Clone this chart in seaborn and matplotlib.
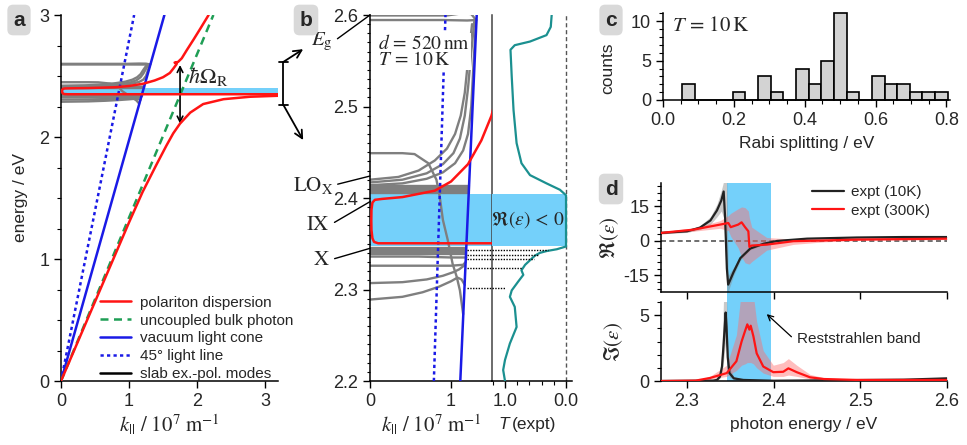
import numpy as np
import matplotlib
matplotlib.use('Agg')
import matplotlib.pyplot as plt
from matplotlib.lines import Line2D
from matplotlib.ticker import MultipleLocator
import seaborn as sns

# --- data ---
# panel a: straight lines (k in 1e7 m^-1, E in eV)
vac_k, vac_E = [0, 1.52], [0, 3.0]
line45_k, line45_E = [0, 1.075], [0, 3.0]
bulk_k, bulk_E = [0, 2.24], [0, 3.0]

# polariton dispersion, lower and upper branch
pol_lo_k = [0, 0.5, 1.0, 1.2, 1.4, 1.55, 1.65, 1.75, 1.9, 2.09, 2.39, 2.78, 3.19]
pol_lo_E = [0, 0.65, 1.3, 1.55, 1.77, 1.93, 2.03, 2.11, 2.2, 2.27, 2.31, 2.33, 2.338]
pol_up_k = [3.19, 2.0, 1.0, 0.3, 0.1, 0.05, 0.03, 0.018, 0.016, 0.018, 0.03, 0.06, 0.15,
            0.4, 0.8, 1.0, 1.21, 1.375, 1.5, 1.6, 1.65, 1.70, 1.67, 1.72, 1.775, 1.85,
            1.95, 2.05, 2.17]
pol_up_E = [2.3505, 2.3505, 2.3505, 2.3505, 2.3505, 2.352, 2.356, 2.365, 2.375, 2.387,
            2.395, 2.398, 2.399, 2.401, 2.408, 2.418, 2.437, 2.463, 2.49, 2.525, 2.56,
            2.598, 2.61, 2.615, 2.645, 2.713, 2.80, 2.89, 3.0]

# slab exciton-polariton modes
top1_k, top1_E = [0, 0.95, 1.15, 1.25, 1.31], [2.5995, 2.5995, 2.602, 2.601, 2.5945]
top2_k, top2_E = [0, 0.9, 1.2, 1.31], [2.5945, 2.5945, 2.594, 2.5945]
rise1_k = [0, 0.4, 0.7, 0.9, 1.05, 1.15, 1.21, 1.25, 1.28, 1.31]
rise1_E = [2.414, 2.416, 2.421, 2.428, 2.438, 2.452, 2.47, 2.50, 2.55, 2.595]
rise2_k = [0, 0.4, 0.7, 0.9, 1.03, 1.11, 1.17, 1.21, 1.25, 1.29]
rise2_E = [2.417, 2.42, 2.427, 2.437, 2.449, 2.465, 2.49, 2.52, 2.56, 2.595]
rise3_k = [0, 0.35, 0.6, 0.8, 0.95, 1.05, 1.12, 1.17, 1.21, 1.26]
rise3_E = [2.42, 2.423, 2.43, 2.441, 2.454, 2.47, 2.49, 2.515, 2.55, 2.59]
fall_k = [0, 0.4, 0.55, 0.72, 0.82, 0.86, 0.90, 0.96, 1.02, 1.07, 1.11, 1.15]
fall_E = [2.449, 2.449, 2.448, 2.438, 2.42, 2.402, 2.376, 2.354, 2.328, 2.314, 2.299, 2.273]
low1_k, low1_E = [0, 0.6, 1.0, 1.19], [2.336, 2.336, 2.335, 2.335]
low2_k, low2_E = [0, 0.6, 1.0, 1.15, 1.18], [2.326, 2.326, 2.326, 2.327, 2.33]
low3_k = [0, 0.4, 0.7, 0.9, 1.03, 1.1, 1.16]
low3_E = [2.307, 2.308, 2.311, 2.315, 2.319, 2.322, 2.326]
low4_k = [0, 0.4, 0.65, 0.85, 1.0, 1.08, 1.13, 1.17]
low4_E = [2.289, 2.292, 2.297, 2.303, 2.309, 2.313, 2.311, 2.305]
lo_cluster_E = [2.405, 2.407, 2.409, 2.411, 2.413]
lo_cluster_kmax = 1.22
x_cluster_E = [2.339, 2.341, 2.343, 2.345]
x_cluster_kmax = 1.19

band_E = (2.347, 2.404)   # Re(eps) < 0

# panel b: transmission (expt)
T_E = [2.6, 2.587, 2.578, 2.571, 2.567, 2.562, 2.533, 2.496, 2.46, 2.438, 2.425, 2.416,
       2.409, 2.403, 2.347, 2.344, 2.342, 2.340, 2.337, 2.332, 2.327, 2.321, 2.316,
       2.309, 2.299, 2.292, 2.281, 2.259, 2.241, 2.223, 2.212, 2.2]
T_val = [0.235, 0.25, 0.32, 0.59, 0.84, 0.91, 0.89, 0.86, 0.81, 0.73, 0.59, 0.32,
         0.10, 0.0, 0.0, 0.15, 0.32, 0.43, 0.51, 0.59, 0.67, 0.73, 0.70,
         0.78, 0.89, 0.92, 0.84, 0.81, 0.92, 1.0, 1.03, 1.0]
dot_E = [2.3432, 2.3377, 2.333, 2.323, 2.302]
dot_T = [0.30, 0.45, 0.53, 0.72, 1.0]

# panel c: histogram of Rabi splittings
bin_edges = [0.054, 0.0897, 0.1254, 0.1611, 0.1968, 0.2325, 0.2682, 0.3039, 0.3396,
             0.3753, 0.411, 0.4467, 0.4824, 0.5181, 0.5538, 0.5895, 0.6252, 0.6609,
             0.6966, 0.7323, 0.768, 0.8037]
counts = [2, 0, 0, 0, 1, 0, 3, 1, 0, 4, 2, 5, 11, 1, 0, 3, 2, 2, 1, 1, 1]

# panel d: dielectric function
re10_E = [2.27, 2.30, 2.315, 2.327, 2.3346, 2.3396, 2.3423, 2.3440, 2.3460, 2.3475,
          2.3538, 2.3615, 2.373, 2.3885, 2.404, 2.4385, 2.496, 2.55, 2.6]
re10 = [3.5, 4.2, 5.8, 8.9, 13.3, 17.6, 21.5, 10, -12, -19, -13.5, -7.5, -3.3, -1.2,
        0.0, 1.0, 1.5, 1.7, 1.7]
re10_lo = [3.1, 3.7, 5.0, 7.2, 10.5, 13, 10, -5, -22, -22, -15, -8.5, -3.9, -1.6,
           -0.3, 0.8, 1.3, 1.5, 1.5]
re10_hi = [3.9, 4.7, 6.6, 10.5, 16, 22, 26, 26, 26, -15, -11.5, -6.3, -2.7, -0.8,
           0.3, 1.2, 1.7, 1.9, 1.9]
re300_E = [2.27, 2.307, 2.338, 2.3477, 2.3504, 2.359, 2.363, 2.367, 2.3708, 2.372,
           2.3747, 2.392, 2.4227, 2.458, 2.496, 2.6]
re300 = [3.5, 4.9, 7.1, 7.8, 6.0, 7.1, 8.1, 6.0, 4.2, -2.6, -2.0, -1.6, -0.1, 0.2,
         0.6, 1.0]
re300_lo = [3.0, 4.2, 5.5, 4.5, 2.0, -3, -7, -9.5, -10, -10, -9, -4, -1.5, -0.4,
            0.2, 0.6]
re300_hi = [4.0, 5.6, 8.8, 11, 12, 14, 14.8, 14.5, 13, 10, 6, 1.5, 0.8, 0.7, 1.0, 1.3]

im10_E = [2.27, 2.33, 2.3346, 2.338, 2.3404, 2.3423, 2.3446, 2.3456, 2.347, 2.349,
          2.354, 2.365, 2.40, 2.55, 2.6]
im10 = [0.0, 0.03, 0.08, 0.33, 1.1, 2.85, 5.2, 4.1, 1.8, 0.6, 0.2, 0.08, 0.02, 0.1, 0.2]
im10_lo = [0.0, 0.02, 0.05, 0.2, 0.6, 1.6, 3.0, 2.5, 1.0, 0.3, 0.1, 0.04, 0.01, 0.05, 0.1]
im10_hi = [0.0, 0.05, 0.15, 0.6, 2.5, 6.5, 6.5, 6.5, 3.0, 1.0, 0.35, 0.12, 0.03, 0.15, 0.3]
im300_E = [2.27, 2.31, 2.3265, 2.3458, 2.357, 2.363, 2.367, 2.3696, 2.372, 2.3735,
           2.3766, 2.3804, 2.388, 2.3996, 2.411, 2.417, 2.4266, 2.442, 2.458, 2.496, 2.6]
im300 = [0.0, 0.03, 0.23, 0.6, 1.5, 3.0, 3.8, 4.3, 3.9, 4.2, 3.4, 2.1, 1.1, 0.67,
         0.7, 0.96, 0.67, 0.28, 0.15, 0.08, 0.08]
im300_lo = [0.0, 0.02, 0.15, 0.35, 0.8, 1.2, 1.3, 1.4, 1.4, 1.4, 1.3, 1.0, 0.6, 0.35,
            0.35, 0.45, 0.35, 0.15, 0.08, 0.04, 0.04]
im300_hi = [0.0, 0.05, 0.35, 1.2, 3.5, 7, 7, 7, 7, 7, 6.5, 4.5, 2.3, 1.2, 1.4, 1.7,
            1.2, 0.5, 0.25, 0.12, 0.12]
rest_band = (2.3465, 2.397)

# --- style ---
sns.set_style('ticks')
plt.rcParams['font.family'] = ['Liberation Sans', 'DejaVu Sans']
plt.rcParams['mathtext.fontset'] = 'stix'
plt.rcParams['axes.linewidth'] = 1.1
plt.rcParams['axes.edgecolor'] = 'black'
plt.rcParams['xtick.labelsize'] = 13
plt.rcParams['ytick.labelsize'] = 13
plt.rcParams['axes.labelsize'] = 12.5

RED = '#ff1414'
BLUE = '#1a1ae6'
GREEN = '#1f9e55'
GRAY = '#7f7f7f'
BAND = '#74d0fa'
TEAL = '#1b9090'

W, H = 967, 445
fig = plt.figure(figsize=(W / 100, H / 100), dpi=100)


def px_rect(l, t, r, b):
    return [l / W, (H - b) / H, (r - l) / W, (b - t) / H]


def set_ticks(ax):
    ax.tick_params(which='both', direction='out', bottom=True, left=True, color='black')
    ax.tick_params(which='major', length=5, width=1.0)
    ax.tick_params(which='minor', length=3, width=0.8)


def draw_modes(ax):
    for k, E in [(top1_k, top1_E), (top2_k, top2_E), (rise1_k, rise1_E),
                 (rise2_k, rise2_E), (rise3_k, rise3_E), (fall_k, fall_E),
                 (low1_k, low1_E), (low2_k, low2_E), (low3_k, low3_E), (low4_k, low4_E)]:
        ax.plot(k, E, color=GRAY, lw=1.7, zorder=2)
    for e in lo_cluster_E:
        ax.plot([0, lo_cluster_kmax], [e, e], color=GRAY, lw=1.7, zorder=2)
    for e in x_cluster_E:
        ax.plot([0, x_cluster_kmax], [e, e], color=GRAY, lw=1.7, zorder=2)


def draw_polariton(ax):
    sns.lineplot(x=pol_lo_k, y=pol_lo_E, sort=False, estimator=None, ax=ax,
                 color=RED, lw=1.8, zorder=4)
    sns.lineplot(x=pol_up_k, y=pol_up_E, sort=False, estimator=None, ax=ax,
                 color=RED, lw=1.8, zorder=4)


def panel_letter(x, y, s):
    fig.text(x / W, 1 - y / H, s, fontsize=15, weight='bold', ha='center', va='center',
             bbox=dict(boxstyle='round,pad=0.28', fc='#d9d9d9', ec='none'))


# --- panel a ---
ax_a = fig.add_axes(px_rect(61, 15, 278, 381))
ax_a.axhspan(*band_E, xmin=0.005, color=BAND, lw=0, zorder=0)
draw_modes(ax_a)
ax_a.plot(line45_k, line45_E, color=BLUE, lw=1.8, ls=(0, (1.3, 1.3)), zorder=3)
ax_a.plot(vac_k, vac_E, color=BLUE, lw=1.8, zorder=3)
ax_a.plot(bulk_k, bulk_E, color=GREEN, lw=1.8, ls=(0, (3.2, 2.2)), zorder=3)
draw_polariton(ax_a)
ax_a.set_xlim(0, 3.19)
ax_a.set_ylim(0, 3)
ax_a.set_xticks([0, 1, 2, 3])
ax_a.yaxis.set_major_locator(MultipleLocator(1))
ax_a.yaxis.set_minor_locator(MultipleLocator(0.25))
ax_a.set_xlabel(r'$k_{||}\ /\ 10^{7}\ \mathrm{m}^{-1}$', fontsize=15, labelpad=2)
ax_a.set_ylabel('energy / eV', labelpad=8)
sns.despine(ax=ax_a)
set_ticks(ax_a)

ax_a.annotate('', xy=(1.75, 2.11), xytext=(1.75, 2.59),
              arrowprops=dict(arrowstyle='<->', lw=1.2, color='black', shrinkA=0, shrinkB=0))
ax_a.text(1.86, 2.50, r'$\hbar\Omega_\mathrm{R}$', fontsize=16, va='center', ha='left')
# bracket to the right of panel a
ax_a.plot([3.27, 3.27], [2.262, 2.616], color='black', lw=1.3, clip_on=False)
ax_a.plot([3.21, 3.34], [2.616, 2.616], color='black', lw=1.3, clip_on=False)
ax_a.plot([3.21, 3.34], [2.262, 2.262], color='black', lw=1.3, clip_on=False)
ax_a.annotate('', xy=(3.56, 2.72), xytext=(3.27, 2.616), annotation_clip=False,
              arrowprops=dict(arrowstyle='->', lw=1.3, color='black', shrinkA=0, shrinkB=0,
                              mutation_scale=14))
ax_a.annotate('', xy=(3.56, 1.975), xytext=(3.27, 2.262), annotation_clip=False,
              arrowprops=dict(arrowstyle='->', lw=1.3, color='black', shrinkA=0, shrinkB=0,
                              mutation_scale=14))

handles = [Line2D([], [], color=RED, lw=1.8),
           Line2D([], [], color=GREEN, lw=1.8, ls=(0, (3.2, 2.2))),
           Line2D([], [], color=BLUE, lw=1.8),
           Line2D([], [], color=BLUE, lw=1.8, ls=(0, (1.3, 1.3))),
           Line2D([], [], color='black', lw=1.8)]
labels = ['polariton dispersion', 'uncoupled bulk photon', 'vacuum light cone',
          '45° light line', 'slab ex.-pol. modes']
ax_a.legend(handles, labels, loc='lower left', bbox_to_anchor=(0.18, 0.0), frameon=False,
            fontsize=11, borderpad=0, borderaxespad=0, handlelength=2.0,
            handletextpad=0.6, labelspacing=0.25)

# --- panel b ---
ax_b1 = fig.add_axes(px_rect(370, 15, 492, 381))
ax_b1.axhspan(*band_E, color=BAND, lw=0, zorder=0)
draw_modes(ax_b1)
ax_b1.plot(line45_k, line45_E, color=BLUE, lw=1.8, ls=(0, (1.3, 1.3)), zorder=3)
ax_b1.plot(vac_k, vac_E, color=BLUE, lw=1.8, zorder=3)
draw_polariton(ax_b1)
for e in dot_E:
    ax_b1.plot([1.2, 1.506], [e, e], color='black', lw=1.0, ls=(0, (1, 1)), zorder=3)
ax_b1.set_xlim(0, 1.506)
ax_b1.set_ylim(2.2, 2.6)
ax_b1.set_xticks([0, 1])
ax_b1.set_yticks([2.2, 2.3, 2.4, 2.5, 2.6])
ax_b1.set_yticklabels(['2.2', '2.3', '2.4', '2.5', '2.6'])
ax_b1.yaxis.set_minor_locator(MultipleLocator(0.01))
ax_b1.spines['top'].set_visible(False)
ax_b1.spines['right'].set_color('#444444')
ax_b1.set_xlabel(r'$k_{||}\ /\ 10^{7}\ \mathrm{m}^{-1}$', fontsize=15, labelpad=2)
set_ticks(ax_b1)
ax_b1.tick_params(axis='y', which='minor', length=2.5)
ax_b1.text(0.066, 0.90, r'$d\,=\,520\,\mathrm{nm}$' + '\n' + r'$T\,=\,10\,\mathrm{K}$',
           transform=ax_b1.transAxes, fontsize=14, va='center', ha='left', linespacing=0.85,
           zorder=5, bbox=dict(boxstyle='square,pad=0.05', fc='white', ec='none'))

for lab, e, dx, dy in [(r'$E_\mathrm{g}$', 2.6, -26.6, -19.4),
                       (r'$\mathrm{LO_X}$', 2.424, -26.6, -6.7),
                       (r'$\mathrm{IX}$', 2.396, -28.8, -16.8),
                       (r'$\mathrm{X}$', 2.345, -28.8, -8.4)]:
    ax_b1.annotate(lab, xy=(0, e), xytext=(dx, dy), textcoords='offset points',
                   fontsize=15, ha='right', va='center', annotation_clip=False,
                   arrowprops=dict(arrowstyle='-', lw=1.0, color='black', shrinkA=1,
                                   shrinkB=0, relpos=(1, 0.5)))

ax_b2 = fig.add_axes(px_rect(492, 15, 572, 381))
ax_b2.patch.set_alpha(0)
ax_b2.axhspan(*band_E, xmin=0, xmax=0.925, color=BAND, lw=0, zorder=0)
ax_b2.axvline(0, color='#555555', lw=1.0, ls=(0, (3, 2)), zorder=1)
sns.lineplot(x=T_val, y=T_E, sort=False, estimator=None, ax=ax_b2, color=TEAL,
             lw=1.6, zorder=3)
for e, t in zip(dot_E, dot_T):
    ax_b2.plot([1.213, t], [e, e], color='black', lw=1.0, ls=(0, (1, 1)), zorder=3)
ax_b2.text(0.62, 2.377, r'$\mathfrak{R}(\varepsilon)\,<\,0$', fontsize=14, ha='center',
           va='center', zorder=4)
ax_b2.set_xlim(1.213, -0.098)
ax_b2.set_ylim(2.2, 2.6)
ax_b2.set_xticks([1.0, 0.0])
ax_b2.set_xticklabels(['1.0', '0.0'])
ax_b2.xaxis.set_minor_locator(MultipleLocator(0.2))
ax_b2.set_yticks([])
ax_b2.set_xlabel('')
ax_b2.set_ylabel('')
for s in ['left', 'top', 'right']:
    ax_b2.spines[s].set_visible(False)
set_ticks(ax_b2)
ax_b2.tick_params(left=False)
ax_b2.text(0.215, -0.12, 'T', style='italic', fontsize=12.5, ha='right', va='center',
           transform=ax_b2.transAxes)
ax_b2.text(0.25, -0.12, '(expt)', fontsize=12.5, ha='left', va='center',
           transform=ax_b2.transAxes)

# --- panel c ---
ax_c = fig.add_axes(px_rect(663, 13, 950, 100))
centers = [(a + b) / 2 for a, b in zip(bin_edges[:-1], bin_edges[1:])]
sns.histplot(x=centers, weights=counts, bins=bin_edges, ax=ax_c, color='#d3d3d3',
             edgecolor='black', linewidth=1.2, alpha=1)
ax_c.set_xlim(0, 0.81)
ax_c.set_ylim(0, 11.05)
ax_c.xaxis.set_major_locator(MultipleLocator(0.2))
ax_c.xaxis.set_minor_locator(MultipleLocator(0.05))
ax_c.yaxis.set_major_locator(MultipleLocator(5))
ax_c.yaxis.set_minor_locator(MultipleLocator(1))
ax_c.set_xlabel('Rabi splitting / eV', labelpad=5)
ax_c.set_ylabel('counts')
ax_c.yaxis.set_label_coords(-0.165, 0.37)
ax_c.text(0.03, 0.86, r'$T\,=\,10\,\mathrm{K}$', transform=ax_c.transAxes, fontsize=15,
          va='center', ha='left')
sns.despine(ax=ax_c)
set_ticks(ax_c)
for p in ax_c.patches:
    p.set_clip_on(False)

# --- panel d ---
ax_d1 = fig.add_axes(px_rect(661, 183, 947, 292))
ax_d2 = fig.add_axes(px_rect(661, 302, 947, 381))
band_top = ax_d1.axvspan(*rest_band, ymin=-0.092, ymax=1, color=BAND, lw=0, zorder=0)
band_top.set_clip_on(False)
ax_d2.axvspan(*rest_band, color=BAND, lw=0, zorder=0)

ax_d1.axhline(0, color='#555555', lw=1.2, ls=(0, (3, 2)), zorder=1)
ax_d1.fill_between(re10_E, re10_lo, re10_hi, color='#888888', alpha=0.45, lw=0, zorder=2)
ax_d1.fill_between(re300_E, re300_lo, re300_hi, color='#ff6e6e', alpha=0.45, lw=0, zorder=2)
sns.lineplot(x=re10_E, y=re10, sort=False, estimator=None, ax=ax_d1, color='#222222',
             lw=1.6, zorder=3, label='expt (10K)')
sns.lineplot(x=re300_E, y=re300, sort=False, estimator=None, ax=ax_d1, color=RED,
             lw=1.6, zorder=4, label='expt (300K)')
ax_d1.set_xlim(2.27, 2.6)
ax_d1.set_ylim(-22.2, 25.2)
ax_d1.set_yticks([-15, 0, 15])
ax_d1.set_yticklabels(['-15', '0', '15'])
ax_d1.yaxis.set_minor_locator(MultipleLocator(3))
ax_d1.set_xticks([2.3, 2.4, 2.5, 2.6])
ax_d1.set_xticklabels([])
ax_d1.set_xlabel('')
ax_d1.set_ylabel(r'$\mathfrak{R}(\varepsilon)$', fontsize=15, labelpad=2)
ax_d1.legend(loc='upper left', bbox_to_anchor=(0.527, 0.98), frameon=False, fontsize=11,
             borderpad=0, borderaxespad=0, handlelength=2.1, handletextpad=0.5,
             labelspacing=0.3)
sns.despine(ax=ax_d1)
set_ticks(ax_d1)

ax_d2.fill_between(im10_E, im10_lo, im10_hi, color='#888888', alpha=0.45, lw=0, zorder=2)
ax_d2.fill_between(im300_E, im300_lo, im300_hi, color='#ff6e6e', alpha=0.45, lw=0, zorder=2)
sns.lineplot(x=im10_E, y=im10, sort=False, estimator=None, ax=ax_d2, color='#222222',
             lw=1.6, zorder=3)
sns.lineplot(x=im300_E, y=im300, sort=False, estimator=None, ax=ax_d2, color=RED,
             lw=1.6, zorder=4)
ax_d2.set_xlim(2.27, 2.6)
ax_d2.set_ylim(0, 6)
ax_d2.yaxis.set_major_locator(MultipleLocator(5))
ax_d2.yaxis.set_minor_locator(MultipleLocator(1))
ax_d2.set_xticks([2.3, 2.4, 2.5, 2.6])
ax_d2.set_xticklabels(['2.3', '2.4', '2.5', '2.6'])
ax_d2.set_xlabel('photon energy / eV', labelpad=5)
ax_d2.set_ylabel(r'$\mathfrak{I}(\varepsilon)$', fontsize=15, labelpad=10)
ax_d2.annotate('', xy=(2.392, 5.08), xytext=(2.4205, 3.36),
               arrowprops=dict(arrowstyle='->', lw=0.9, color='black', shrinkA=0, shrinkB=0))
ax_d2.text(2.4265, 3.2, 'Reststrahlen band', fontsize=11, ha='left', va='center')
sns.despine(ax=ax_d2)
set_ticks(ax_d2)

# panel letters
panel_letter(19, 20, 'a')
panel_letter(306, 20, 'b')
panel_letter(611, 20, 'c')
panel_letter(611, 189, 'd')

fig.savefig('out.png', dpi=100)
